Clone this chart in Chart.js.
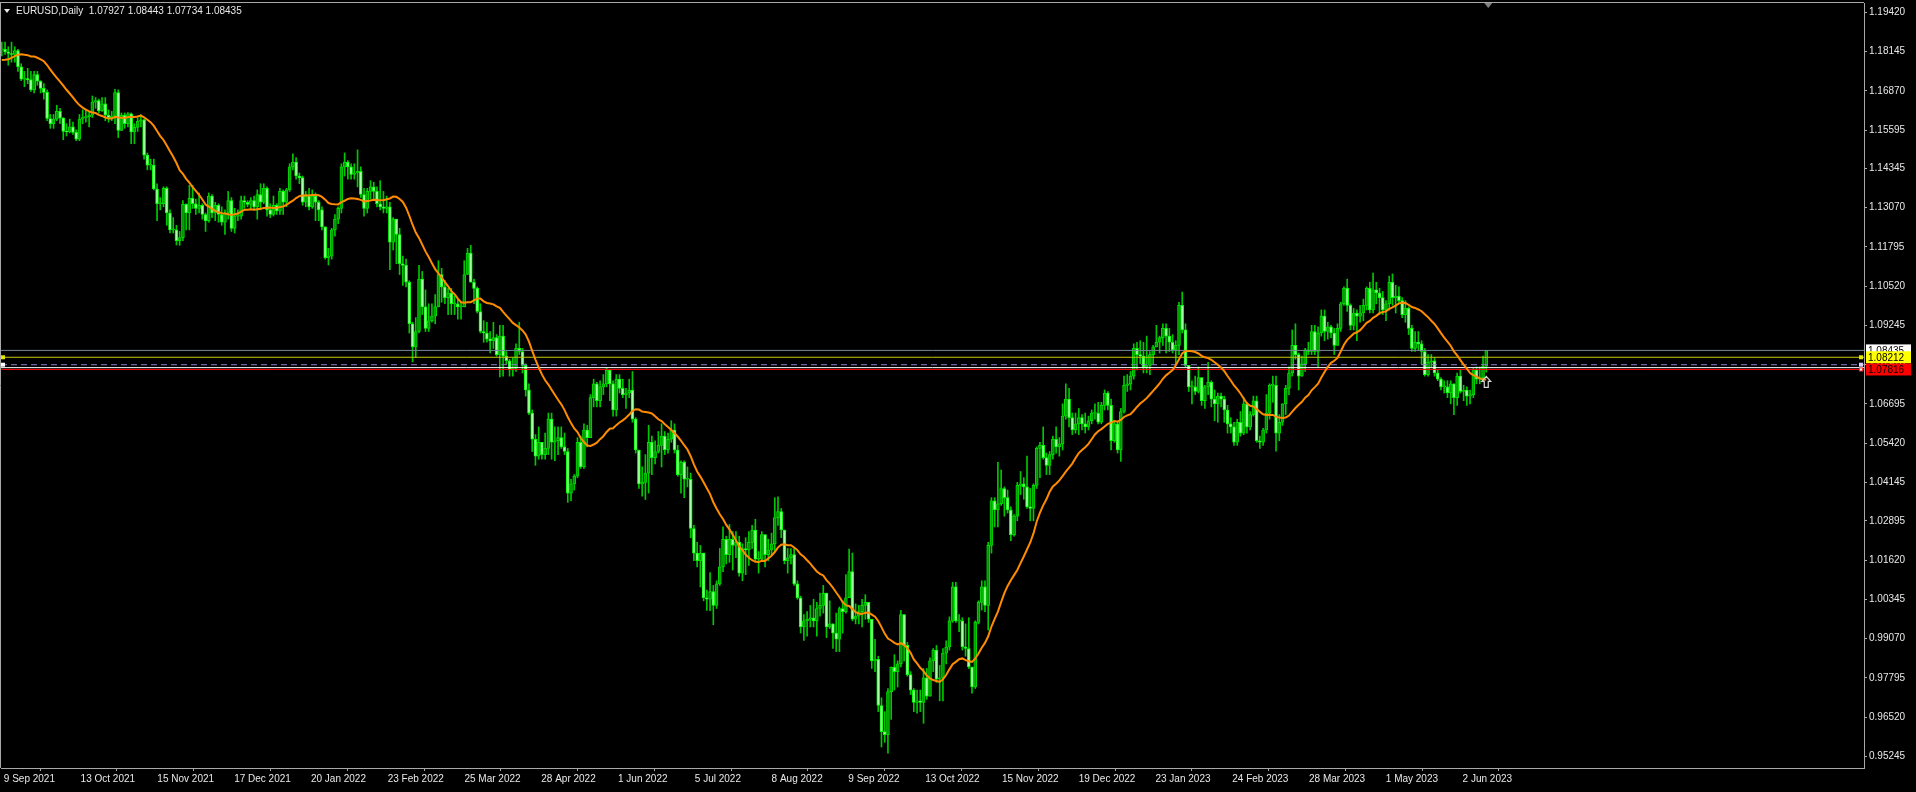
<!DOCTYPE html>
<html>
<head>
<meta charset="utf-8">
<title>EURUSD,Daily</title>
<script src="https://cdn.jsdelivr.net/npm/chart.js@4.4.1/dist/chart.umd.min.js"></script>
<style>
  html, body { margin: 0; padding: 0; background: #000; overflow: hidden; }
  canvas { display: block; }
</style>
</head>
<body>
<canvas id="chart" width="1916" height="792"></canvas>
<script>
// daily bars 9 Sep 2021 .. 14 Jun 2023, price x 10000, one line per week
const closes = [
  11822, 11813,
  11808, 11805, 11818, 11765, 11725,
  11727, 11723, 11690, 11740, 11718,
  11695, 11682, 11597, 11580, 11595,
  11620, 11598, 11555, 11553, 11570,
  11552, 11530, 11595, 11600, 11602,
  11608, 11650, 11655, 11622, 11645,
  11608, 11600, 11605, 11681, 11558,
  11607, 11580, 11612, 11553, 11568,
  11588, 11593, 11478, 11445, 11445,
  11368, 11320, 11320, 11370, 11290,
  11235, 11235, 11200, 11210, 11318,
  11290, 11338, 11320, 11305, 11315,
  11285, 11265, 11345, 11290, 11315,
  11285, 11260, 11290, 11330, 11240,
  11280, 11280, 11330, 11325, 11318,
  11330, 11310, 11350, 11325, 11370,
  11300, 11285, 11315, 11297, 11360,
  11325, 11365, 11440, 11455, 11410,
  11405, 11325, 11345, 11310, 11345,
  11325, 11300, 11245, 11145, 11150,
  11235, 11270, 11305, 11440, 11455,
  11440, 11415, 11420, 11425, 11350,
  11305, 11360, 11375, 11360, 11320,
  11310, 11305, 11310, 11195, 11270,
  11220, 11125, 11120, 11065, 10930,
  10855, 10905, 11075, 10985, 10915,
  10940, 10955, 10985, 11090, 11050,
  11015, 11030, 10995, 10995, 10985,
  10985, 11090, 11160, 11065, 11045,
  10970, 10905, 10900, 10880, 10875,
  10885, 10830, 10890, 10825, 10810,
  10780, 10785, 10850, 10840, 10795,
  10715, 10640, 10555, 10500, 10545,
  10505, 10525, 10620, 10545, 10550,
  10560, 10530, 10515, 10380, 10410,
  10435, 10545, 10465, 10585, 10560,
  10690, 10735, 10680, 10725, 10735,
  10780, 10735, 10650, 10750, 10720,
  10700, 10705, 10715, 10620, 10520,
  10410, 10415, 10445, 10545, 10495,
  10515, 10535, 10565, 10520, 10555,
  10585, 10520, 10440, 10480, 10425,
  10425, 10265, 10185, 10160, 10185,
  10040, 10035, 10060, 10015, 10085,
  10140, 10230, 10180, 10230, 10210,
  10220, 10120, 10200, 10195, 10220,
  10260, 10165, 10165, 10245, 10180,
  10195, 10215, 10300, 10320, 10260,
  10160, 10170, 10180, 10085, 10040,
  9945, 9965, 9970, 9975, 9965,
  10005, 10015, 10055, 9945, 9955,
  9925, 9905, 10005, 9995, 10040,
  10125, 9970, 9980, 9995, 10015,
  10025, 9970, 9835, 9840, 9690,
  9605, 9595, 9735, 9815, 9800,
  9825, 9985, 9885, 9790, 9740,
  9700, 9705, 9700, 9780, 9720,
  9835, 9870, 9775, 9780, 9860,
  9880, 9965, 10075, 9965, 9965,
  9880, 9875, 9815, 9750, 9960,
  10025, 10075, 10015, 10210, 10355,
  10325, 10345, 10395, 10365, 10325,
  10245, 10305, 10405, 10410, 10400,
  10335, 10330, 10405, 10525, 10535,
  10495, 10470, 10505, 10555, 10530,
  10540, 10630, 10685, 10625, 10585,
  10605, 10625, 10605, 10595, 10615,
  10640, 10640, 10610, 10665, 10705,
  10665, 10550, 10605, 10520, 10645,
  10730, 10735, 10760, 10850, 10830,
  10825, 10790, 10795, 10830, 10855,
  10870, 10885, 10915, 10890, 10870,
  10845, 10860, 10990, 10910, 10795,
  10725, 10725, 10710, 10755, 10680,
  10725, 10740, 10685, 10670, 10695,
  10685, 10650, 10605, 10595, 10545,
  10610, 10575, 10670, 10595, 10635,
  10680, 10550, 10545, 10585, 10640,
  10730, 10730, 10575, 10610, 10670,
  10720, 10770, 10860, 10830, 10760,
  10800, 10845, 10840, 10905, 10840,
  10900, 10955, 10905, 10920, 10900,
  10860, 10915, 10995, 11045, 10990,
  10925, 10965, 10955, 10965, 10990,
  11045, 10975, 11040, 11030, 11015,
  10975, 10995, 11065, 11015, 11020,
  11005, 10960, 10980, 10915, 10850,
  10870, 10865, 10840, 10765, 10805,
  10810, 10770, 10750, 10725, 10725,
  10705, 10735, 10690, 10760, 10710,
  10715, 10695, 10700, 10780, 10750,
  10755, 10792, 10844
];

const highs = [
  11845, 11845,
  11830, 11845, 11830, 11822, 11775,
  11750, 11760, 11750, 11750, 11750,
  11720, 11710, 11690, 11610, 11610,
  11640, 11630, 11600, 11580, 11595,
  11585, 11560, 11610, 11625, 11625,
  11620, 11670, 11665, 11660, 11665,
  11665, 11625, 11620, 11692, 11690,
  11615, 11615, 11616, 11615, 11580,
  11600, 11610, 11595, 11485, 11465,
  11465, 11385, 11340, 11375, 11375,
  11300, 11275, 11250, 11230, 11330,
  11320, 11380, 11380, 11335, 11355,
  11320, 11290, 11355, 11350, 11325,
  11320, 11310, 11300, 11360, 11340,
  11305, 11300, 11345, 11345, 11330,
  11340, 11345, 11365, 11385, 11385,
  11375, 11320, 11345, 11320, 11370,
  11365, 11370, 11450, 11482, 11470,
  11420, 11410, 11360, 11370, 11365,
  11355, 11330, 11310, 11245, 11175,
  11240, 11285, 11310, 11450, 11485,
  11460, 11450, 11450, 11495, 11440,
  11370, 11370, 11395, 11390, 11375,
  11395, 11360, 11345, 11325, 11275,
  11270, 11240, 11150, 11140, 11070,
  10935, 10950, 11120, 11100, 11040,
  10995, 10995, 11025, 11135, 11110,
  11070, 11045, 11045, 11020, 11010,
  11000, 11135, 11175, 11185, 11075,
  11050, 10995, 10940, 10935, 10905,
  10935, 10895, 10925, 10925, 10840,
  10815, 10820, 10865, 10935, 10850,
  10800, 10735, 10650, 10570, 10595,
  10545, 10575, 10640, 10640, 10595,
  10595, 10595, 10575, 10525, 10425,
  10440, 10560, 10565, 10605, 10600,
  10700, 10750, 10740, 10745, 10765,
  10787, 10765, 10745, 10765, 10765,
  10750, 10720, 10750, 10775, 10625,
  10510, 10465, 10505, 10600, 10565,
  10550, 10580, 10605, 10580, 10575,
  10615, 10605, 10535, 10485, 10485,
  10465, 10445, 10275, 10220, 10210,
  10170, 10065, 10122, 10080, 10095,
  10200, 10270, 10240, 10278, 10255,
  10255, 10240, 10215, 10235, 10255,
  10275, 10295, 10190, 10255, 10240,
  10230, 10250, 10365, 10368, 10330,
  10235, 10200, 10200, 10200, 10095,
  10045, 9985, 9995, 10015, 10035,
  10025, 10055, 10080, 10040, 10030,
  9930, 9990, 10010, 10030, 10115,
  10198, 10185, 10020, 10015, 10035,
  10050, 10025, 9970, 9905, 9850,
  9715, 9670, 9745, 9815, 9855,
  9835, 9999, 9985, 9895, 9800,
  9745, 9740, 9740, 9810, 9810,
  9845, 9875, 9885, 9820, 9875,
  9900, 9978, 10090, 10090, 9985,
  9975, 9955, 9975, 9815, 9965,
  10030, 10095, 10095, 10220, 10365,
  10365, 10480, 10455, 10400, 10390,
  10335, 10310, 10415, 10450, 10430,
  10500, 10395, 10410, 10530, 10545,
  10595, 10510, 10515, 10565, 10595,
  10560, 10670, 10735, 10720, 10640,
  10640, 10655, 10635, 10640, 10630,
  10650, 10670, 10675, 10675, 10715,
  10710, 10685, 10615, 10610, 10655,
  10760, 10765, 10775, 10865, 10870,
  10875, 10870, 10890, 10840, 10860,
  10925, 10890, 10930, 10930, 10915,
  10895, 10875, 11000, 11033, 10930,
  10795, 10745, 10760, 10790, 10735,
  10730, 10805, 10745, 10715, 10705,
  10705, 10695, 10665, 10625, 10610,
  10620, 10645, 10690, 10675, 10645,
  10695, 10695, 10565, 10590, 10700,
  10735, 10760, 10760, 10635, 10670,
  10730, 10790, 10910, 10930, 10835,
  10825, 10850, 10870, 10925, 10925,
  10920, 10975, 10975, 10935, 10925,
  10915, 10930, 11000, 11050, 11075,
  10995, 10980, 10975, 10990, 11010,
  11050, 11065, 11095, 11065, 11045,
  11035, 11005, 11085, 11092, 11055,
  11050, 11015, 11005, 10985, 10925,
  10905, 10905, 10875, 10850, 10830,
  10830, 10820, 10780, 10755, 10745,
  10745, 10745, 10735, 10770, 10780,
  10730, 10725, 10715, 10785, 10790,
  10790, 10825, 10844
];

const lows = [
  11800, 11805,
  11770, 11780, 11780, 11750, 11720,
  11700, 11710, 11685, 11680, 11705,
  11680, 11660, 11590, 11565, 11565,
  11590, 11580, 11528, 11540, 11550,
  11545, 11525, 11525, 11580, 11585,
  11570, 11600, 11630, 11615, 11620,
  11590, 11585, 11590, 11580, 11535,
  11560, 11565, 11570, 11515, 11515,
  11555, 11570, 11465, 11430, 11430,
  11365, 11265, 11300, 11310, 11250,
  11225, 11225, 11186, 11185, 11200,
  11235, 11235, 11305, 11285, 11290,
  11270, 11230, 11260, 11275, 11265,
  11260, 11250, 11220, 11270, 11230,
  11225, 11265, 11270, 11305, 11310,
  11305, 11300, 11270, 11300, 11320,
  11280, 11275, 11280, 11285, 11285,
  11285, 11310, 11360, 11430, 11400,
  11385, 11315, 11310, 11300, 11305,
  11265, 11265, 11235, 11140, 11121,
  11140, 11215, 11255, 11290, 11410,
  11400, 11400, 11400, 11375, 11340,
  11280, 11290, 11335, 11330, 11310,
  11300, 11290, 11290, 11106, 11170,
  11125, 11090, 11055, 11050, 10900,
  10806, 10820, 10900, 10960, 10905,
  10905, 10935, 10930, 10985, 11000,
  10995, 10960, 10960, 10960, 10945,
  10945, 10990, 11090, 11065, 10995,
  10965, 10900, 10870, 10870, 10835,
  10850, 10825, 10757, 10760, 10800,
  10760, 10760, 10775, 10830, 10770,
  10695, 10635, 10515, 10470, 10490,
  10490, 10490, 10505, 10490, 10485,
  10505, 10525, 10505, 10350, 10355,
  10390, 10430, 10460, 10460, 10530,
  10560, 10660, 10660, 10660, 10700,
  10725, 10680, 10630, 10630, 10705,
  10690, 10655, 10690, 10610, 10510,
  10395, 10370, 10359, 10380, 10440,
  10475, 10510, 10465, 10505, 10510,
  10545, 10510, 10435, 10380, 10365,
  10400, 10235, 10160, 10140, 10075,
  10030, 9999, 9998, 9952, 10005,
  10080, 10125, 10150, 10155, 10130,
  10170, 10110, 10095, 10115, 10145,
  10200, 10160, 10120, 10160, 10140,
  10160, 10180, 10190, 10275, 10235,
  10150, 10120, 10150, 10080, 10035,
  9925, 9901, 9915, 9945, 9945,
  9915, 9980, 9990, 9910, 9940,
  9875, 9865, 9865, 9925, 9990,
  10055, 9965, 9955, 9955, 9945,
  9970, 9960, 9810, 9800, 9670,
  9555, 9570, 9535, 9645, 9740,
  9750, 9815, 9835, 9785, 9725,
  9670, 9665, 9670, 9632, 9710,
  9720, 9800, 9765, 9705, 9705,
  9825, 9870, 9960, 9960, 9930,
  9870, 9850, 9810, 9730, 9745,
  9955, 10000, 9995, 9935, 10185,
  10270, 10270, 10340, 10305, 10315,
  10225, 10240, 10290, 10375, 10360,
  10330, 10290, 10290, 10395, 10430,
  10490, 10440, 10440, 10490, 10510,
  10500, 10520, 10620, 10595, 10570,
  10575, 10570, 10585, 10575, 10585,
  10605, 10620, 10605, 10605, 10650,
  10650, 10520, 10545, 10510, 10483,
  10640, 10710, 10715, 10750, 10780,
  10800, 10770, 10770, 10765, 10800,
  10855, 10835, 10860, 10835, 10840,
  10835, 10800, 10830, 10900, 10790,
  10710, 10670, 10700, 10705, 10665,
  10655, 10700, 10660, 10615, 10610,
  10660, 10610, 10575, 10575, 10535,
  10535, 10565, 10570, 10575, 10585,
  10630, 10545, 10525, 10535, 10575,
  10620, 10675, 10516, 10550, 10600,
  10635, 10700, 10760, 10815, 10715,
  10760, 10775, 10830, 10830, 10830,
  10790, 10890, 10875, 10880, 10885,
  10830, 10865, 10905, 10990, 10970,
  10910, 10910, 10875, 10935, 10940,
  10975, 10965, 10965, 10995, 10960,
  10960, 10940, 10975, 10990, 10965,
  10995, 10950, 10935, 10895, 10840,
  10840, 10845, 10800, 10760, 10760,
  10790, 10760, 10745, 10715, 10705,
  10690, 10670, 10635, 10665, 10705,
  10680, 10665, 10670, 10690, 10735,
  10735, 10745, 10773
];

// closes of the 19 days before the first bar, only feed the moving average
const warmupCloses = [11795, 11780, 11710, 11710, 11675, 11700, 11745, 11755, 11772, 11750,
  11795, 11797, 11808, 11843, 11875, 11880, 11870, 11840, 11820];

const dateLabels = ['9 Sep 2021', '13 Oct 2021', '15 Nov 2021', '17 Dec 2021', '20 Jan 2022',
  '23 Feb 2022', '25 Mar 2022', '28 Apr 2022', '1 Jun 2022', '5 Jul 2022', '8 Aug 2022',
  '9 Sep 2022', '13 Oct 2022', '15 Nov 2022', '19 Dec 2022', '23 Jan 2023', '24 Feb 2023',
  '28 Mar 2023', '1 May 2023', '2 Jun 2023'];

const priceTicks = [1.19420, 1.18145, 1.16870, 1.15595, 1.14345, 1.13070, 1.11795, 1.10520,
  1.09245, 1.07970, 1.06695, 1.05420, 1.04145, 1.02895, 1.01620, 1.00345, 0.99070, 0.97795,
  0.96520, 0.95245];

const headerText = 'EURUSD,Daily  1.07927 1.08443 1.07734 1.08435';
const bidLevel = 1.08435;
const yellowLevel = 1.08212;
const dashLevel = 1.07970;
const whiteLevel = 1.07875;
const redLevel = 1.07816;
const arrowBar = 459;
const arrowPrice = 1.0759;
const maPeriod = 20;

// view window (bar index / price)
const xMin = -0.25, xMax = 575.8;
const yMin = 0.94868, yMax = 1.19722;
const labelStep = 23.74; // bars between two date labels

const frameColor = '#a8a8a8';
const textColor = '#e8e8e8';
const font = { family: 'Liberation Sans', size: 10 };

// build the candles and the 20 day average
const allCloses = warmupCloses.concat(closes);
const wickData = [], bodyData = [], bodyFill = [], bodyEdge = [], maData = [];
for (let i = 0; i < closes.length; i++) {
  const o = (i === 0 ? warmupCloses[warmupCloses.length - 1] : closes[i - 1]) / 10000;
  const c = closes[i] / 10000;
  const h = Math.max(highs[i] / 10000, o, c);
  const l = Math.min(lows[i] / 10000, o, c);
  wickData.push({ x: i, y: [l, h] });
  bodyData.push({ x: i, y: [o, c] });
  const up = c >= o;
  bodyFill.push(up ? '#009400' : '#a6ffa6');
  bodyEdge.push(up ? '#00dc00' : '#00ff00');
  let sum = 0;
  for (let k = 0; k < maPeriod; k++) sum += allCloses[i + warmupCloses.length - k];
  maData.push({ x: i, y: sum / maPeriod / 10000 });
}

function levelLine(value, color, dash) {
  return {
    type: 'line', data: [{ x: xMin, y: value }, { x: xMax, y: value }],
    borderColor: color, borderWidth: 1, borderDash: dash || [], pointRadius: 0, order: 3
  };
}

function priceBox(ctx, y, text, bg, fg) {
  ctx.fillStyle = bg;
  ctx.fillRect(1866, y - 6, 45, 12);
  ctx.fillStyle = fg;
  ctx.fillText(text, 1868, y + 0.5);
}

// MetaTrader style decorations: frame, header, price boxes, markers
const mtDecor = {
  id: 'mtDecor',
  beforeDraw(chart) {
    const ctx = chart.ctx;
    ctx.save();
    ctx.fillStyle = '#000';
    ctx.fillRect(0, 0, chart.width, chart.height);
    ctx.restore();
  },
  afterDraw(chart) {
    const ctx = chart.ctx;
    const area = chart.chartArea;
    const xs = chart.scales.x, ys = chart.scales.y;
    ctx.save();
    // frame top and left
    ctx.strokeStyle = frameColor;
    ctx.lineWidth = 1;
    ctx.beginPath();
    ctx.moveTo(0, area.top - 0.5);
    ctx.lineTo(area.right, area.top - 0.5);
    ctx.moveTo(0.5, area.top);
    ctx.lineTo(0.5, area.bottom);
    ctx.stroke();

    // header
    ctx.fillStyle = textColor;
    ctx.beginPath();
    ctx.moveTo(4, 9);
    ctx.lineTo(10, 9);
    ctx.lineTo(7, 13);
    ctx.closePath();
    ctx.fill();
    ctx.font = '10px "Liberation Sans"';
    ctx.textBaseline = 'middle';
    ctx.fillText(headerText, 16, 11.5);

    // chart shift marker at the top
    const shiftX = xs.getPixelForValue(arrowBar) + 2;
    ctx.fillStyle = '#808080';
    ctx.beginPath();
    ctx.moveTo(shiftX - 4, area.top);
    ctx.lineTo(shiftX + 4, area.top);
    ctx.lineTo(shiftX, area.top + 5);
    ctx.closePath();
    ctx.fill();

    // small handles at the line ends
    const yY = ys.getPixelForValue(yellowLevel);
    const yD = ys.getPixelForValue(dashLevel);
    const yR = ys.getPixelForValue(redLevel);
    ctx.fillStyle = '#e6e600';
    ctx.fillRect(area.right - 5, yY - 2, 4, 4);
    ctx.fillRect(1, yY - 2, 4, 4);
    ctx.fillStyle = '#d8d0ff';
    ctx.fillRect(area.right - 5, yD - 2, 4, 4);
    ctx.fillStyle = '#ffffff';
    ctx.fillRect(1, yD - 2, 4, 4);
    ctx.fillStyle = '#ff3030';
    ctx.fillRect(area.right - 5, yR - 2, 4, 4);
    ctx.fillStyle = '#ffffff';
    ctx.fillRect(area.right - 4, yR - 1, 2, 2);

    // buy arrow under the last bar
    const ax = xs.getPixelForValue(arrowBar);
    const at = ys.getPixelForValue(arrowPrice);
    ctx.strokeStyle = '#d8d8d8';
    ctx.lineWidth = 1.2;
    ctx.beginPath();
    ctx.moveTo(ax, at);
    ctx.lineTo(ax + 4.5, at + 5);
    ctx.lineTo(ax + 2, at + 5);
    ctx.lineTo(ax + 2, at + 11);
    ctx.lineTo(ax - 2, at + 11);
    ctx.lineTo(ax - 2, at + 5);
    ctx.lineTo(ax - 4.5, at + 5);
    ctx.closePath();
    ctx.stroke();

    // price labels on the right axis
    ctx.font = '10px "Liberation Sans"';
    ctx.textBaseline = 'middle';
    priceBox(ctx, ys.getPixelForValue(bidLevel), bidLevel.toFixed(5), '#ffffff', '#000000');
    priceBox(ctx, ys.getPixelForValue(yellowLevel), yellowLevel.toFixed(5), '#ffff00', '#000000');
    priceBox(ctx, ys.getPixelForValue(redLevel), redLevel.toFixed(5), '#ff0000', '#000000');
    ctx.restore();
  }
};

new Chart(document.getElementById('chart'), {
  type: 'bar',
  data: {
    datasets: [
      {
        type: 'line', data: maData, borderColor: '#ff8c00', borderWidth: 2,
        pointRadius: 0, tension: 0, order: 1
      },
      levelLine(bidLevel, '#778899'),
      levelLine(yellowLevel, '#c8c800'),
      levelLine(dashLevel, '#8a7fd0', [6, 4]),
      levelLine(whiteLevel, '#ffffff'),
      levelLine(redLevel, '#ff0000'),
      {
        data: bodyData, backgroundColor: bodyFill, borderColor: bodyEdge, borderWidth: 1,
        borderSkipped: false, grouped: false, categoryPercentage: 1, barPercentage: 1,
        maxBarThickness: 3, minBarLength: 1, order: 5
      },
      {
        data: wickData, backgroundColor: '#00c800', borderWidth: 0, grouped: false,
        categoryPercentage: 1, barPercentage: 1, maxBarThickness: 1, order: 6
      }
    ]
  },
  options: {
    responsive: false,
    animation: false,
    events: [],
    layout: { padding: { top: 3, left: 1, right: 0, bottom: 0 } },
    plugins: { legend: { display: false }, tooltip: { enabled: false } },
    scales: {
      x: {
        type: 'linear', min: xMin, max: xMax, offset: false,
        afterBuildTicks: s => { s.ticks = dateLabels.map((_, k) => ({ value: k * labelStep })); },
        afterFit: s => { s.height = 24; s.paddingLeft = 0; s.paddingRight = 0; },
        ticks: {
          callback: (v, i) => dateLabels[i], color: textColor, font: font,
          align: 'start', labelOffset: 2, padding: 2, autoSkip: false, maxRotation: 0, minRotation: 0
        },
        grid: { drawOnChartArea: false, drawTicks: true, tickLength: 3, color: frameColor },
        border: { color: frameColor }
      },
      y: {
        position: 'right', min: yMin, max: yMax,
        afterBuildTicks: s => { s.ticks = priceTicks.map(v => ({ value: v })); },
        afterFit: s => { s.width = 52; s.paddingTop = 0; s.paddingBottom = 0; },
        ticks: { callback: v => v.toFixed(5), color: textColor, font: font, padding: 2, autoSkip: false },
        grid: { drawOnChartArea: false, drawTicks: true, tickLength: 3, color: frameColor },
        border: { color: frameColor }
      }
    }
  },
  plugins: [mtDecor]
});
</script>
</body>
</html>
